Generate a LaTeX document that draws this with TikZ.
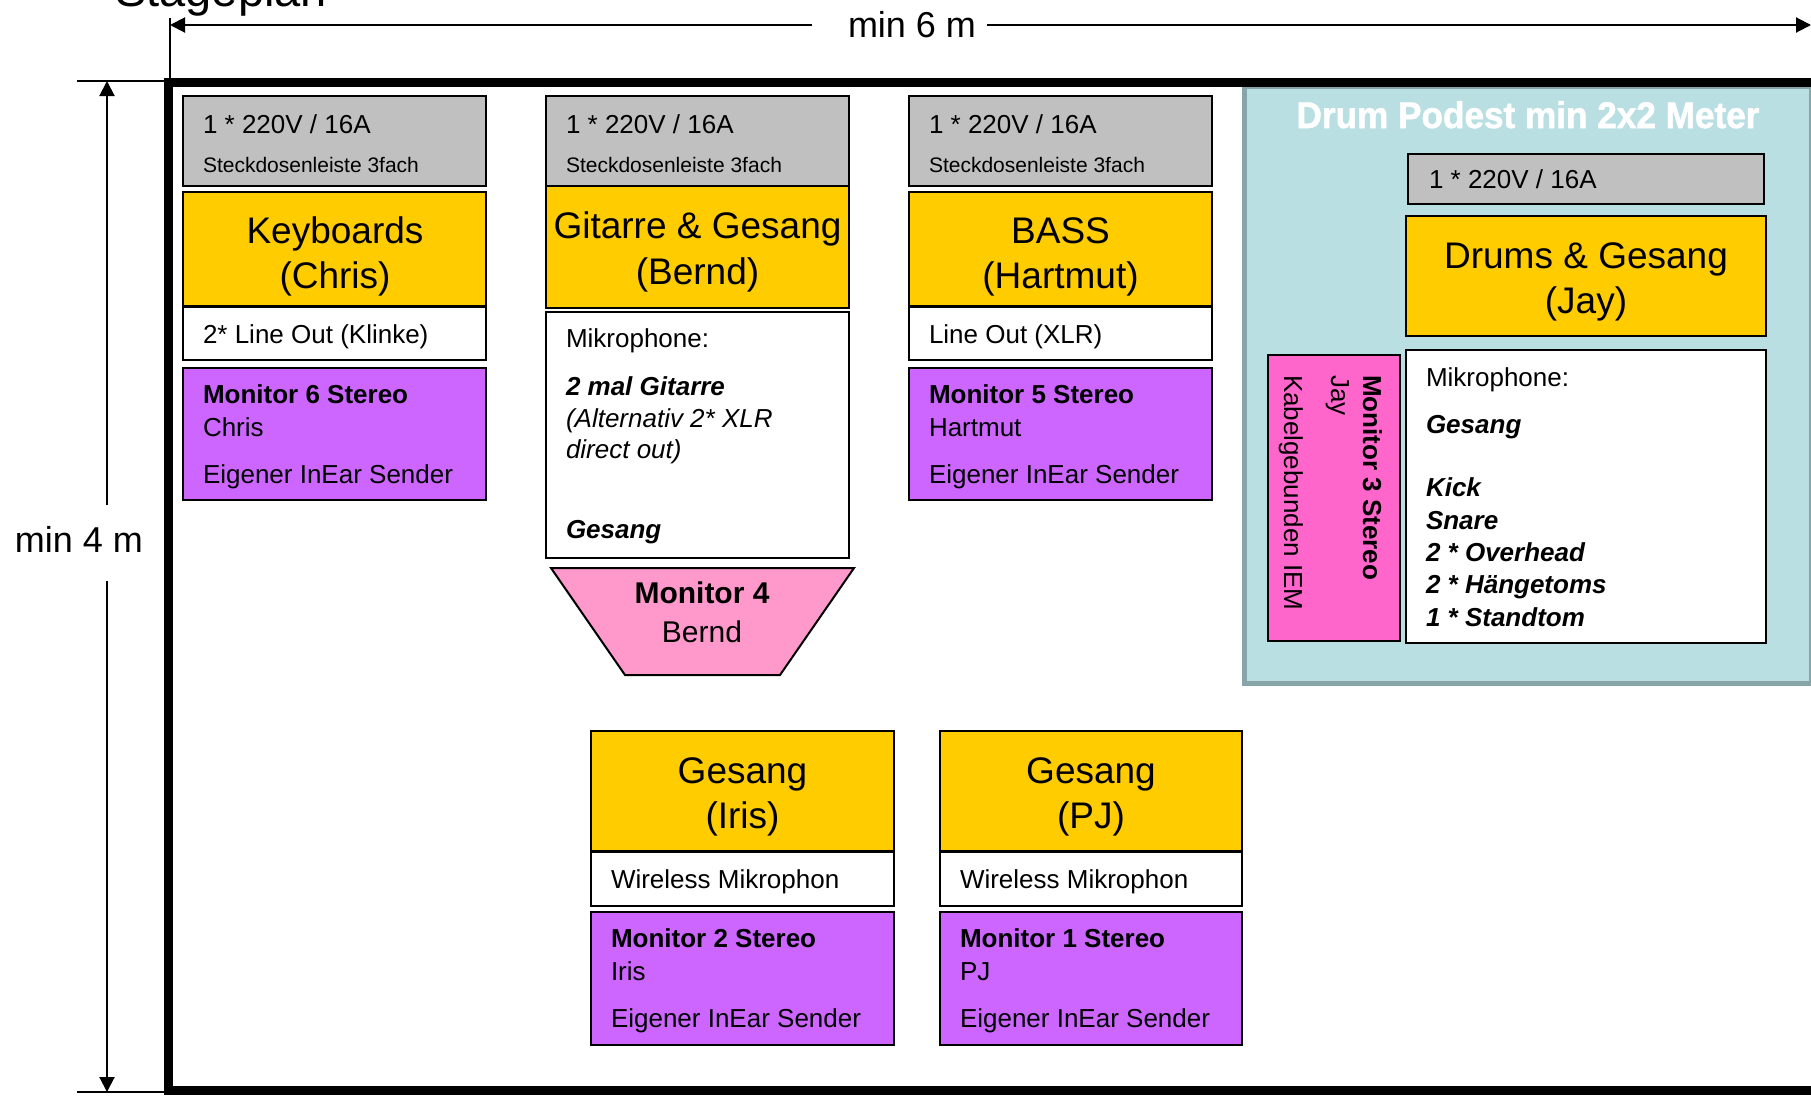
\documentclass[tikz,border=0pt]{standalone}
\usepackage{fontspec}
\setmainfont{Liberation Sans}
\newfontfamily\podfont{Liberation Sans}[FakeBold=1.5,FakeStretch=0.95]
\usetikzlibrary{arrows.meta}
\definecolor{pwrgray}{RGB}{192,192,192}
\definecolor{roleyellow}{RGB}{255,204,0}
\definecolor{monpurple}{RGB}{204,102,255}
\definecolor{monpink}{RGB}{255,153,204}
\definecolor{hotpink}{RGB}{255,102,204}
\definecolor{podestfill}{RGB}{185,223,227}
\definecolor{podestedge}{RGB}{135,165,168}
\newcommand\fsz[1]{\fontsize{#1}{#1}\selectfont}
\begin{document}
\begin{tikzpicture}[x=1pt,y=-1pt,
  bx/.style={draw=black, line width=2pt, anchor=north west, inner sep=0pt, outer sep=0pt},
  pwr/.style={bx, fill=pwrgray},
  role/.style={bx, fill=roleyellow},
  info/.style={bx, fill=white},
  mon/.style={bx, fill=monpurple},
  txt/.style={inner sep=0pt, outer sep=0pt, anchor=base west, font=\fsz{26}},
  txtS/.style={txt, font=\fsz{21}},
  txtB/.style={txt, font=\fsz{26}\bfseries},
  txtBI/.style={txt, font=\fsz{26}\bfseries\itshape},
  txtI/.style={txt, font=\fsz{26}\itshape},
  big/.style={inner sep=0pt, outer sep=0pt, anchor=base, font=\fsz{37}},
  dimtxt/.style={inner sep=0pt, outer sep=0pt, font=\fsz{36}},
  dimline/.style={line width=2pt, -{Triangle[length=15pt,width=15pt]}},
  tick/.style={line width=2pt},
  rot/.style={txt, rotate=-90}
]
\useasboundingbox (0,0) rectangle (1811,1095);
\fill[white] (0,0) rectangle (1811,1095);
\clip (0,0) rectangle (1811,1095);

% title
\node[font=\fsz{47}, anchor=base west, inner sep=0pt] (title) at (115,6) {Stageplan};

% drum podest (under frame)
\node[draw=podestedge, fill=podestfill, line width=5pt, anchor=north west, inner sep=0pt,
      minimum width=567, minimum height=597] (pod) at (1242,84) {};

% stage frame
\draw[line width=9pt] (168,82) rectangle (1818,1090);

% dimensions
\coordinate (htick1) at (170,18);
\coordinate (htick2) at (170,82);
\coordinate (hl) at (170,25);
\coordinate (hr) at (1811,25);
\draw[tick] (htick1) -- (htick2);
\node[dimtxt, minimum width=175pt, minimum height=40pt] (hlab) at (899.5,25) {\hspace*{25pt}min 6 m};
\draw[dimline] (hlab.west) -- (hl);
\draw[dimline] (hlab.east) -- (hr);

\coordinate (vt1a) at (77,81);
\coordinate (vt1b) at (165,81);
\coordinate (vt2a) at (77,1092);
\coordinate (vt2b) at (165,1092);
\coordinate (vtop) at (107,81);
\coordinate (vbot) at (107,1092);
\draw[tick] (vt1a) -- (vt1b);
\draw[tick] (vt2a) -- (vt2b);
\node[dimtxt, minimum height=76pt] (vlab) at (79,543) {\raisebox{7pt}{min 4 m}};
\draw[dimline] (vlab.north -| vtop) -- (vtop);
\draw[dimline] (vlab.south -| vbot) -- (vbot);

% Keyboards
\node[pwr, minimum width=303, minimum height=90] (kbPwr) at (183,96) {};
\node[txt] (kbPwrA) at (203,133) {1 * 220V / 16A};
\node[txtS] (kbPwrB) at (203,172) {Steckdosenleiste 3fach};
\node[role, minimum width=303, minimum height=114] (kbRole) at (183,192) {};
\node[big] (kbRoleA) at (335,243) {Keyboards};
\node[big] (kbRoleB) at (335,288) {(Chris)};
\node[info, minimum width=303, minimum height=53] (kbInfo) at (183,307) {};
\node[txt] (kbInfoA) at (203,343) {2* Line Out (Klinke)};
\node[mon, minimum width=303, minimum height=132] (kbMon) at (183,368) {};
\node[txtB] (kbMonA) at (203,403) {Monitor 6 Stereo};
\node[txt] (kbMonB) at (203,436) {Chris};
\node[txt] (kbMonC) at (203,483) {Eigener InEar Sender};

% Gitarre
\node[pwr, minimum width=303, minimum height=90] (gtPwr) at (546,96) {};
\node[txt] (gtPwrA) at (566,133) {1 * 220V / 16A};
\node[txtS] (gtPwrB) at (566,172) {Steckdosenleiste 3fach};
\node[role, minimum width=303, minimum height=122] (gtRole) at (546,186) {};
\node[big] (gtRoleA) at (697.5,238) {Gitarre \& Gesang};
\node[big] (gtRoleB) at (697.5,284) {(Bernd)};
\node[info, minimum width=303, minimum height=246] (gtInfo) at (546,312) {};
\node[txt] (gtInfoA) at (566,347) {Mikrophone:};
\node[txtBI] (gtInfoB) at (566,395) {2 mal Gitarre};
\node[txtI] (gtInfoC) at (566,427) {(Alternativ 2* XLR};
\node[txtI] (gtInfoD) at (566,458) {direct out)};
\node[txtBI] (gtInfoE) at (566,538) {Gesang};
\draw[line width=2pt, fill=monpink] (551,568) -- (854,568) -- (780,675) -- (625,675) -- cycle;
\node[inner sep=0pt, anchor=base, font=\fsz{30}\bfseries] (gtMonA) at (702,603) {Monitor 4};
\node[inner sep=0pt, anchor=base, font=\fsz{30}] (gtMonB) at (702,642) {Bernd};

% BASS
\node[pwr, minimum width=303, minimum height=90] (bsPwr) at (909,96) {};
\node[txt] (bsPwrA) at (929,133) {1 * 220V / 16A};
\node[txtS] (bsPwrB) at (929,172) {Steckdosenleiste 3fach};
\node[role, minimum width=303, minimum height=114] (bsRole) at (909,192) {};
\node[big] (bsRoleA) at (1060.5,243) {BASS};
\node[big] (bsRoleB) at (1060.5,288) {(Hartmut)};
\node[info, minimum width=303, minimum height=53] (bsInfo) at (909,307) {};
\node[txt] (bsInfoA) at (929,343) {Line Out (XLR)};
\node[mon, minimum width=303, minimum height=132] (bsMon) at (909,368) {};
\node[txtB] (bsMonA) at (929,403) {Monitor 5 Stereo};
\node[txt] (bsMonB) at (929,436) {Hartmut};
\node[txt] (bsMonC) at (929,483) {Eigener InEar Sender};

% Drums
\node[inner sep=0pt, anchor=base, text=white, font=\fsz{37}\podfont\bfseries] (podTitle) at (1528,128) {Drum Podest min 2x2 Meter};
\node[pwr, minimum width=356, minimum height=50] (drPwr) at (1408,154) {};
\node[txt] (drPwrA) at (1429,188) {1 * 220V / 16A};
\node[role, minimum width=360, minimum height=120] (drRole) at (1406,216) {};
\node[big] (drRoleA) at (1586,268) {Drums \& Gesang};
\node[big] (drRoleB) at (1586,313) {(Jay)};
\node[info, minimum width=360, minimum height=293] (drInfo) at (1406,350) {};
\node[txt] (drInfoA) at (1426,386) {Mikrophone:};
\node[txtBI] (drInfoB) at (1426,433) {Gesang};
\node[txtBI] (drInfoC) at (1426,496) {Kick};
\node[txtBI] (drInfoD) at (1426,529) {Snare};
\node[txtBI] (drInfoE) at (1426,561) {2 * Overhead};
\node[txtBI] (drInfoF) at (1426,593) {2 * Hängetoms};
\node[txtBI] (drInfoG) at (1426,626) {1 * Standtom};
\node[bx, fill=hotpink, minimum width=132, minimum height=286] (drMon) at (1268,355) {};
\node[rot, font=\fsz{26}\bfseries] (drMonA) at (1363,375) {Monitor 3 Stereo};
\node[rot] (drMonB) at (1331,375) {Jay};
\node[rot] (drMonC) at (1284,375) {Kabelgebunden IEM};

% Iris
\node[role, minimum width=303, minimum height=120] (irRole) at (591,731) {};
\node[big] (irRoleA) at (742.5,783) {Gesang};
\node[big] (irRoleB) at (742.5,828) {(Iris)};
\node[info, minimum width=303, minimum height=54] (irInfo) at (591,852) {};
\node[txt] (irInfoA) at (611,888) {Wireless Mikrophon};
\node[mon, minimum width=303, minimum height=133] (irMon) at (591,912) {};
\node[txtB] (irMonA) at (611,947) {Monitor 2 Stereo};
\node[txt] (irMonB) at (611,980) {Iris};
\node[txt] (irMonC) at (611,1027) {Eigener InEar Sender};

% PJ
\node[role, minimum width=302, minimum height=120] (pjRole) at (940,731) {};
\node[big] (pjRoleA) at (1091,783) {Gesang};
\node[big] (pjRoleB) at (1091,828) {(PJ)};
\node[info, minimum width=302, minimum height=54] (pjInfo) at (940,852) {};
\node[txt] (pjInfoA) at (960,888) {Wireless Mikrophon};
\node[mon, minimum width=302, minimum height=133] (pjMon) at (940,912) {};
\node[txtB] (pjMonA) at (960,947) {Monitor 1 Stereo};
\node[txt] (pjMonB) at (960,980) {PJ};
\node[txt] (pjMonC) at (960,1027) {Eigener InEar Sender};
\end{tikzpicture}
\end{document}
